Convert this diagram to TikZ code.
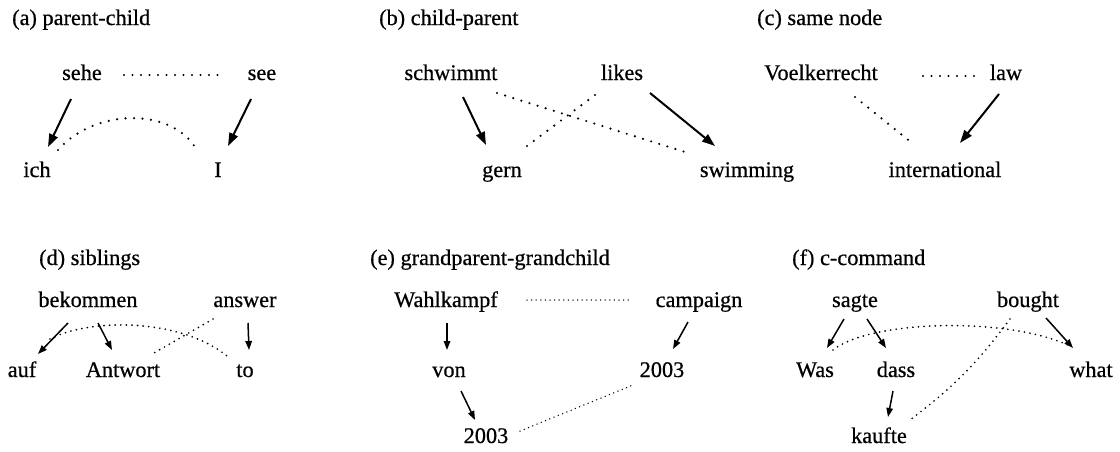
\documentclass[tikz,border=0pt]{standalone}
\usepackage{fontspec}
\setmainfont{Liberation Serif}[FakeBold=0.6]
\usetikzlibrary{arrows.meta,calc}
\begin{document}
\begin{tikzpicture}[x=1pt,y=1pt,
  word/.style={anchor=base, inner sep=0pt, font=\fontsize{22.3}{27}\selectfont},
  caption/.style={anchor=base west, inner sep=0pt, font=\fontsize{22.3}{27}\selectfont},
  bigarrow/.style={line width=2pt, -{Triangle[length=13pt,width=9pt]}},
  smallarrow/.style={line width=1.5pt, -{Triangle[length=9pt,width=6.5pt]}},
  sparsedots/.style={line width=2.4pt, line cap=round, dash pattern=on 0pt off 8.5pt},
  densedots/.style={line width=1.9pt, line cap=round, dash pattern=on 0pt off 5.6pt},
  finedots/.style={line width=1.5pt, line cap=round, dash pattern=on 0pt off 4.6pt},
]
\useasboundingbox (0,0) rectangle (1120,-451);

% (a) parent-child
\node[caption] (capA) at (12,-25) {(a) parent-child};
\node[word] (sehe) at (82,-80) {sehe};
\node[word] (see) at (262,-80) {see};
\node[word] (ich) at (37,-177) {ich};
\node[word] (I) at (218,-177) {I};
\draw[sparsedots] ($(sehe.base)+(42,5)$) -- ($(see.base)+(-40,5)$);
\draw[bigarrow] ($(sehe.base)+(-11,-19)$) -- ($(ich.base)+(11,30)$);
\draw[bigarrow] ($(see.base)+(-11,-19)$) -- ($(I.base)+(10,31)$);
\draw[sparsedots] ($(ich.base)+(21,27)$) .. controls ($(ich.base)+(58,69)$) and ($(I.base)+(-48,69)$) .. ($(I.base)+(-23,30)$);

% (b) child-parent
\node[caption] (capB) at (379,-25) {(b) child-parent};
\node[word] (schwimmt) at (451,-80) {schwimmt};
\node[word] (likes) at (622,-80) {likes};
\node[word] (gern) at (502,-177) {gern};
\node[word] (swimming) at (747,-177) {swimming};
\draw[sparsedots] ($(schwimmt.base)+(46,-13)$) -- ($(swimming.base)+(-62,25)$);
\draw[sparsedots] ($(likes.base)+(-27,-15)$) -- ($(gern.base)+(21,28)$);
\draw[bigarrow] ($(schwimmt.base)+(12,-17)$) -- ($(gern.base)+(-16,32)$);
\draw[bigarrow] ($(likes.base)+(28,-13)$) -- ($(swimming.base)+(-32,31)$);

% (c) same node
\node[caption] (capC) at (757,-25) {(c) same node};
\node[word] (volk) at (821,-80) {Voelkerrecht};
\node[word] (law) at (1006,-80) {law};
\node[word] (intl) at (945,-177) {international};
\draw[sparsedots] ($(volk.base)+(102,4)$) -- ($(law.base)+(-29,4)$);
\draw[sparsedots] ($(volk.base)+(34,-17)$) -- ($(intl.base)+(-33,34)$);
\draw[bigarrow] ($(law.base)+(-7,-14)$) -- ($(intl.base)+(15,34)$);

% (d) siblings
\node[caption] (capD) at (39,-265) {(d) siblings};
\node[word] (bekommen) at (88,-307) {bekommen};
\node[word] (answer) at (245,-307) {answer};
\node[word] (auf) at (22,-377) {auf};
\node[word] (antwort) at (123,-377) {Antwort};
\node[word] (enTo) at (245,-377) {to};
\draw[smallarrow] ($(bekommen.base)+(-20,-16)$) -- ($(auf.base)+(16,23)$);
\draw[smallarrow] ($(bekommen.base)+(10,-16)$) -- ($(antwort.base)+(-11,27)$);
\draw[smallarrow] ($(answer.base)+(3,-16)$) -- ($(enTo.base)+(4,27)$);
\draw[densedots] ($(auf.base)+(28,38)$) .. controls ($(auf.base)+(68,59)$) and ($(enTo.base)+(-65,59)$) .. ($(enTo.base)+(-18,21)$);
\draw[densedots] ($(answer.base)+(-32,-12)$) -- ($(antwort.base)+(31,24)$);

% (e) grandparent-grandchild
\node[caption] (capE) at (370,-265) {(e) grandparent-grandchild};
\node[word] (wahlkampf) at (446,-307) {Wahlkampf};
\node[word] (campaign) at (699,-307) {campaign};
\node[word] (von) at (449,-377) {von};
\node[word] (yrR) at (662,-377) {2003};
\node[word] (yrB) at (486,-443) {2003};
\draw[finedots] ($(wahlkampf.base)+(81,7)$) -- ($(campaign.base)+(-69,7)$);
\draw[smallarrow] ($(wahlkampf.base)+(1,-16)$) -- ($(von.base)+(-2,27)$);
\draw[smallarrow] ($(campaign.base)+(-11,-15)$) -- ($(yrR.base)+(11,28)$);
\draw[smallarrow] ($(von.base)+(12,-14)$) -- ($(yrB.base)+(-11,23)$);
\draw[finedots] ($(yrB.base)+(34,12)$) -- ($(yrR.base)+(-29,-8)$);

% (f) c-command
\node[caption] (capF) at (792,-265) {(f) c-command};
\node[word] (sagte) at (855,-307) {sagte};
\node[word] (bought) at (1028,-307) {bought};
\node[word] (was) at (815,-377) {Was};
\node[word] (dass) at (896,-377) {dass};
\node[word] (what) at (1091,-377) {what};
\node[word] (kaufte) at (879,-443) {kaufte};
\draw[smallarrow] ($(sagte.base)+(-11,-12)$) -- ($(was.base)+(12,29)$);
\draw[smallarrow] ($(sagte.base)+(12,-12)$) -- ($(dass.base)+(-10,29)$);
\draw[smallarrow] ($(bought.base)+(18,-11)$) -- ($(what.base)+(-18,29)$);
\draw[smallarrow] ($(dass.base)+(-3,-14)$) -- ($(kaufte.base)+(9,26)$);
\draw[densedots] ($(was.base)+(18,27)$) .. controls ($(was.base)+(55,57)$) and ($(what.base)+(-81,61)$) .. ($(what.base)+(-19,30)$);
\draw[densedots] ($(bought.base)+(-18,-12)$) to[bend left=8] ($(kaufte.base)+(31,23)$);
\end{tikzpicture}
\end{document}
